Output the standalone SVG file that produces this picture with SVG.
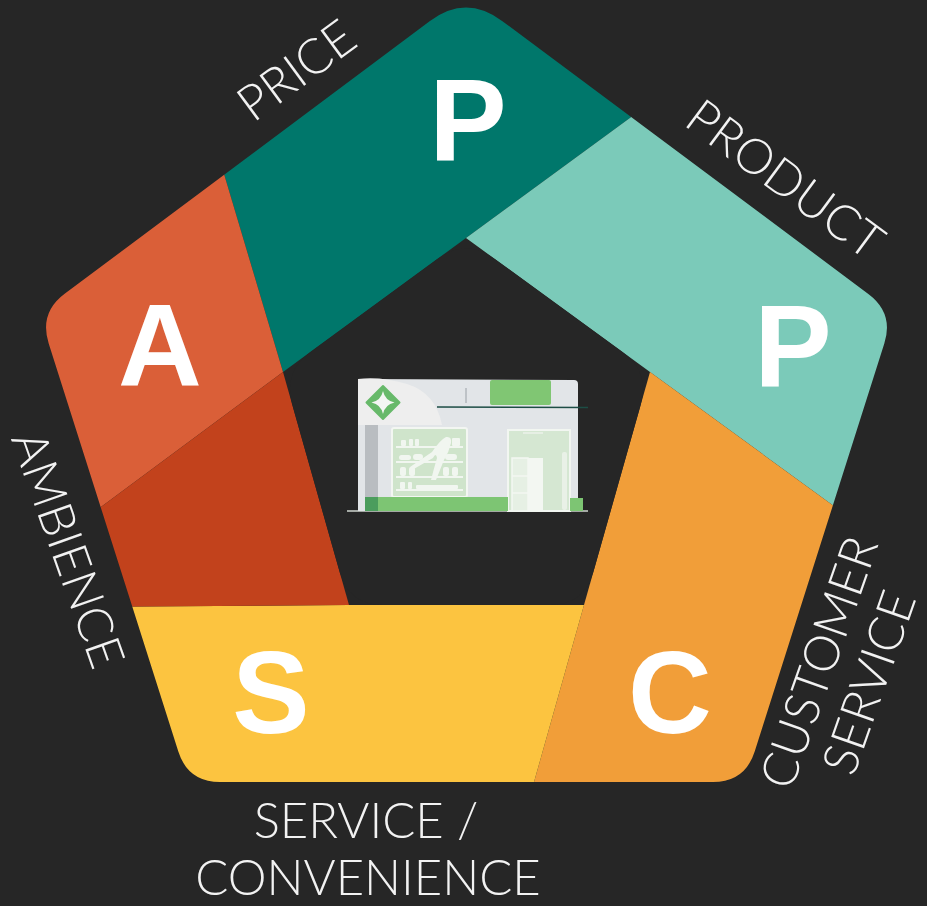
<svg xmlns="http://www.w3.org/2000/svg" width="927" height="906" viewBox="0 0 927 906">
  <style>
    .lbl { font-family: Lato, "Open Sans", "Liberation Sans", sans-serif; font-weight: 300; font-size: 49px; fill: #f2f2f2; text-anchor: middle; }
    .big { font-family: "Liberation Sans", Arial, sans-serif; font-weight: 700; font-size: 116px; fill: #ffffff; text-anchor: middle; }
  </style>
  <defs>
    <!-- outer rounded pentagon -->
    <clipPath id="outer">
      <path d="M 429.95 20.93 Q 466 -6 502.08 20.89 L 868.34 293.88 Q 894 313 884.31 343.5 L 754.69 751.5 Q 745 782 713 782 L 220 782 Q 188 782 178.31 751.5 L 48.69 343.5 Q 39 313 64.64 293.85 Z"/>
    </clipPath>
  </defs>

  <rect width="927" height="906" fill="#262626"/>

  <!-- pinwheel segments, each bounded by an extended edge of the inner hole -->
  <g clip-path="url(#outer)">
    <g id="price">
      <polygon points="283,372 202,100 466,-80 720,52 466,238" fill="#00776b"/>
    </g>
    <g id="product">
      <polygon points="466,238 720,52 960,300 960,598 650,372" fill="#7bcab9"/>
    </g>
    <g id="customer-service">
      <polygon points="650,372 960,598 960,860 512,860 584,605" fill="#f19e39"/>
    </g>
    <g id="service-convenience">
      <polygon points="584,605 512,860 100,860 60,607 349,605" fill="#fcc440"/>
    </g>
    <g id="ambience">
      <polygon points="283,372 202,100 -40,320 20,567" fill="#da5f38"/>
      <polygon points="283,372 20,567 60,607 349,605" fill="#c2421c"/>
    </g>
  </g>

  <!-- inner hole -->
  <path id="hole" d="M 436.95 259.27 Q 466 238 495.1 259.19 L 622.51 351.98 Q 650 372 640.71 404.71 L 593.27 572.29 Q 584 605 550 605 L 383 605 Q 349 605 339.73 572.29 L 292.27 404.71 Q 283 372 310.43 351.91 Z" fill="#262626"/>

  <!-- segment initials -->
  <text class="big" x="468" y="160">P</text>
  <text class="big" x="793" y="386">P</text>
  <text class="big" x="160" y="386">A</text>
  <text class="big" x="271" y="733">S</text>
  <text class="big" x="670" y="733">C</text>

  <!-- segment labels -->
  <text class="lbl" transform="translate(306.5,84) rotate(-36.4)">PRICE</text>
  <text class="lbl" transform="translate(775,193) rotate(36.5)">PRODUCT</text>
  <text class="lbl" transform="translate(52,555) rotate(70.5)">AMBIENCE</text>
  <text class="lbl" transform="translate(835,668) rotate(-70.6)">CUSTOMER</text>
  <text class="lbl" transform="translate(885,688) rotate(-70.6)">SERVICE</text>
  <text class="lbl" x="366" y="838">SERVICE /</text>
  <text class="lbl" x="368" y="895">CONVENIENCE</text>

  <!-- shop front illustration -->
  <g id="store">
    <line x1="347" y1="511" x2="588" y2="511" stroke="#cfd6cf" stroke-width="1.5"/>
    <path d="M 358 383 Q 358 379 362 379 L 574 380 Q 578 380 578 384 L 578 511 L 358 511 Z" fill="#e2e5e8"/>
    <path d="M 358 379 Q 380 376 407 384 Q 436 393 442 425 L 358 425 Z" fill="#eeeeee"/>
    <rect x="490" y="380" width="61" height="25" rx="2" fill="#80c673"/>
    <line x1="466" y1="388" x2="466" y2="403" stroke="#9aa0a6" stroke-width="1"/>
    <line x1="437" y1="407" x2="588" y2="407.5" stroke="#1d4d45" stroke-width="1.6"/>
    <!-- logo -->
    <polygon points="383,386 399.5,402.5 383,419 366.5,402.5" fill="#67b96a" stroke="#67b96a" stroke-width="2" stroke-linejoin="round"/>
    <path d="M 383 391 Q 385 400.5 394.5 402.5 Q 385 404.5 383 414 Q 381 404.5 371.5 402.5 Q 381 400.5 383 391 Z" fill="#f4f6f4"/>
    <!-- pillar -->
    <rect x="365" y="425" width="13" height="72" fill="#b9bdc1"/>
    <!-- window with shelves -->
    <rect x="392" y="428" width="75" height="69" rx="2" fill="#cfe4cb" stroke="#f3f6f2" stroke-width="2"/>
    <g fill="#f1f6f0">
      <rect x="396" y="446" width="67" height="2"/>
      <rect x="396" y="461" width="67" height="2"/>
      <rect x="396" y="476" width="67" height="2"/>
      <rect x="396" y="489" width="67" height="2"/>
      <rect x="401" y="440" width="5" height="6" rx="1"/>
      <rect x="409" y="439" width="4" height="7" rx="1"/>
      <rect x="415" y="439" width="4" height="7" rx="1"/>
      <rect x="452" y="438" width="8" height="8" rx="1"/>
      <rect x="399" y="455" width="12" height="5" rx="2.5"/>
      <rect x="413" y="454" width="10" height="6" rx="3"/>
      <rect x="445" y="454" width="12" height="6" rx="3"/>
      <rect x="400" y="467" width="6" height="9" rx="2"/>
      <rect x="409" y="467" width="6" height="9" rx="2"/>
      <rect x="443" y="467" width="6" height="9" rx="2"/>
      <rect x="452" y="467" width="6" height="9" rx="2"/>
      <rect x="400" y="482" width="5" height="7" rx="1"/>
      <rect x="408" y="482" width="4" height="7" rx="1"/>
      <rect x="416" y="485" width="42" height="4" rx="1"/>
      <path d="M 446 437 Q 452 436 451 443 Q 449 452 444 460 Q 440 470 436 480 L 431 480 Q 434 468 437 458 Q 436 452 433 458 L 412 470 L 410 467 L 432 452 Q 440 440 446 437 Z"/>
    </g>
    <!-- door -->
    <rect x="508" y="430" width="62" height="81" fill="#d5e7d2" stroke="#f2f6f1" stroke-width="2"/>
    <line x1="523" y1="433" x2="543" y2="433" stroke="#f2f6f1" stroke-width="1.2"/>
    <rect x="512" y="458" width="16" height="53" fill="#e6f0e4" stroke="#f3f7f2" stroke-width="1.5"/>
    <line x1="512" y1="476" x2="528" y2="476" stroke="#f3f7f2" stroke-width="1.5"/>
    <line x1="512" y1="493" x2="528" y2="493" stroke="#f3f7f2" stroke-width="1.5"/>
    <rect x="528" y="458" width="15" height="53" fill="#f3f7f2"/>
    <rect x="562" y="452" width="5" height="58" rx="2" fill="#e9f1e7"/>
    <!-- base strip -->
    <rect x="365" y="497" width="143" height="14" fill="#7dc573"/>
    <rect x="365" y="497" width="13" height="14" fill="#4b9d5d"/>
    <rect x="570" y="498" width="13" height="13" fill="#7dc573"/>
  </g>
</svg>
